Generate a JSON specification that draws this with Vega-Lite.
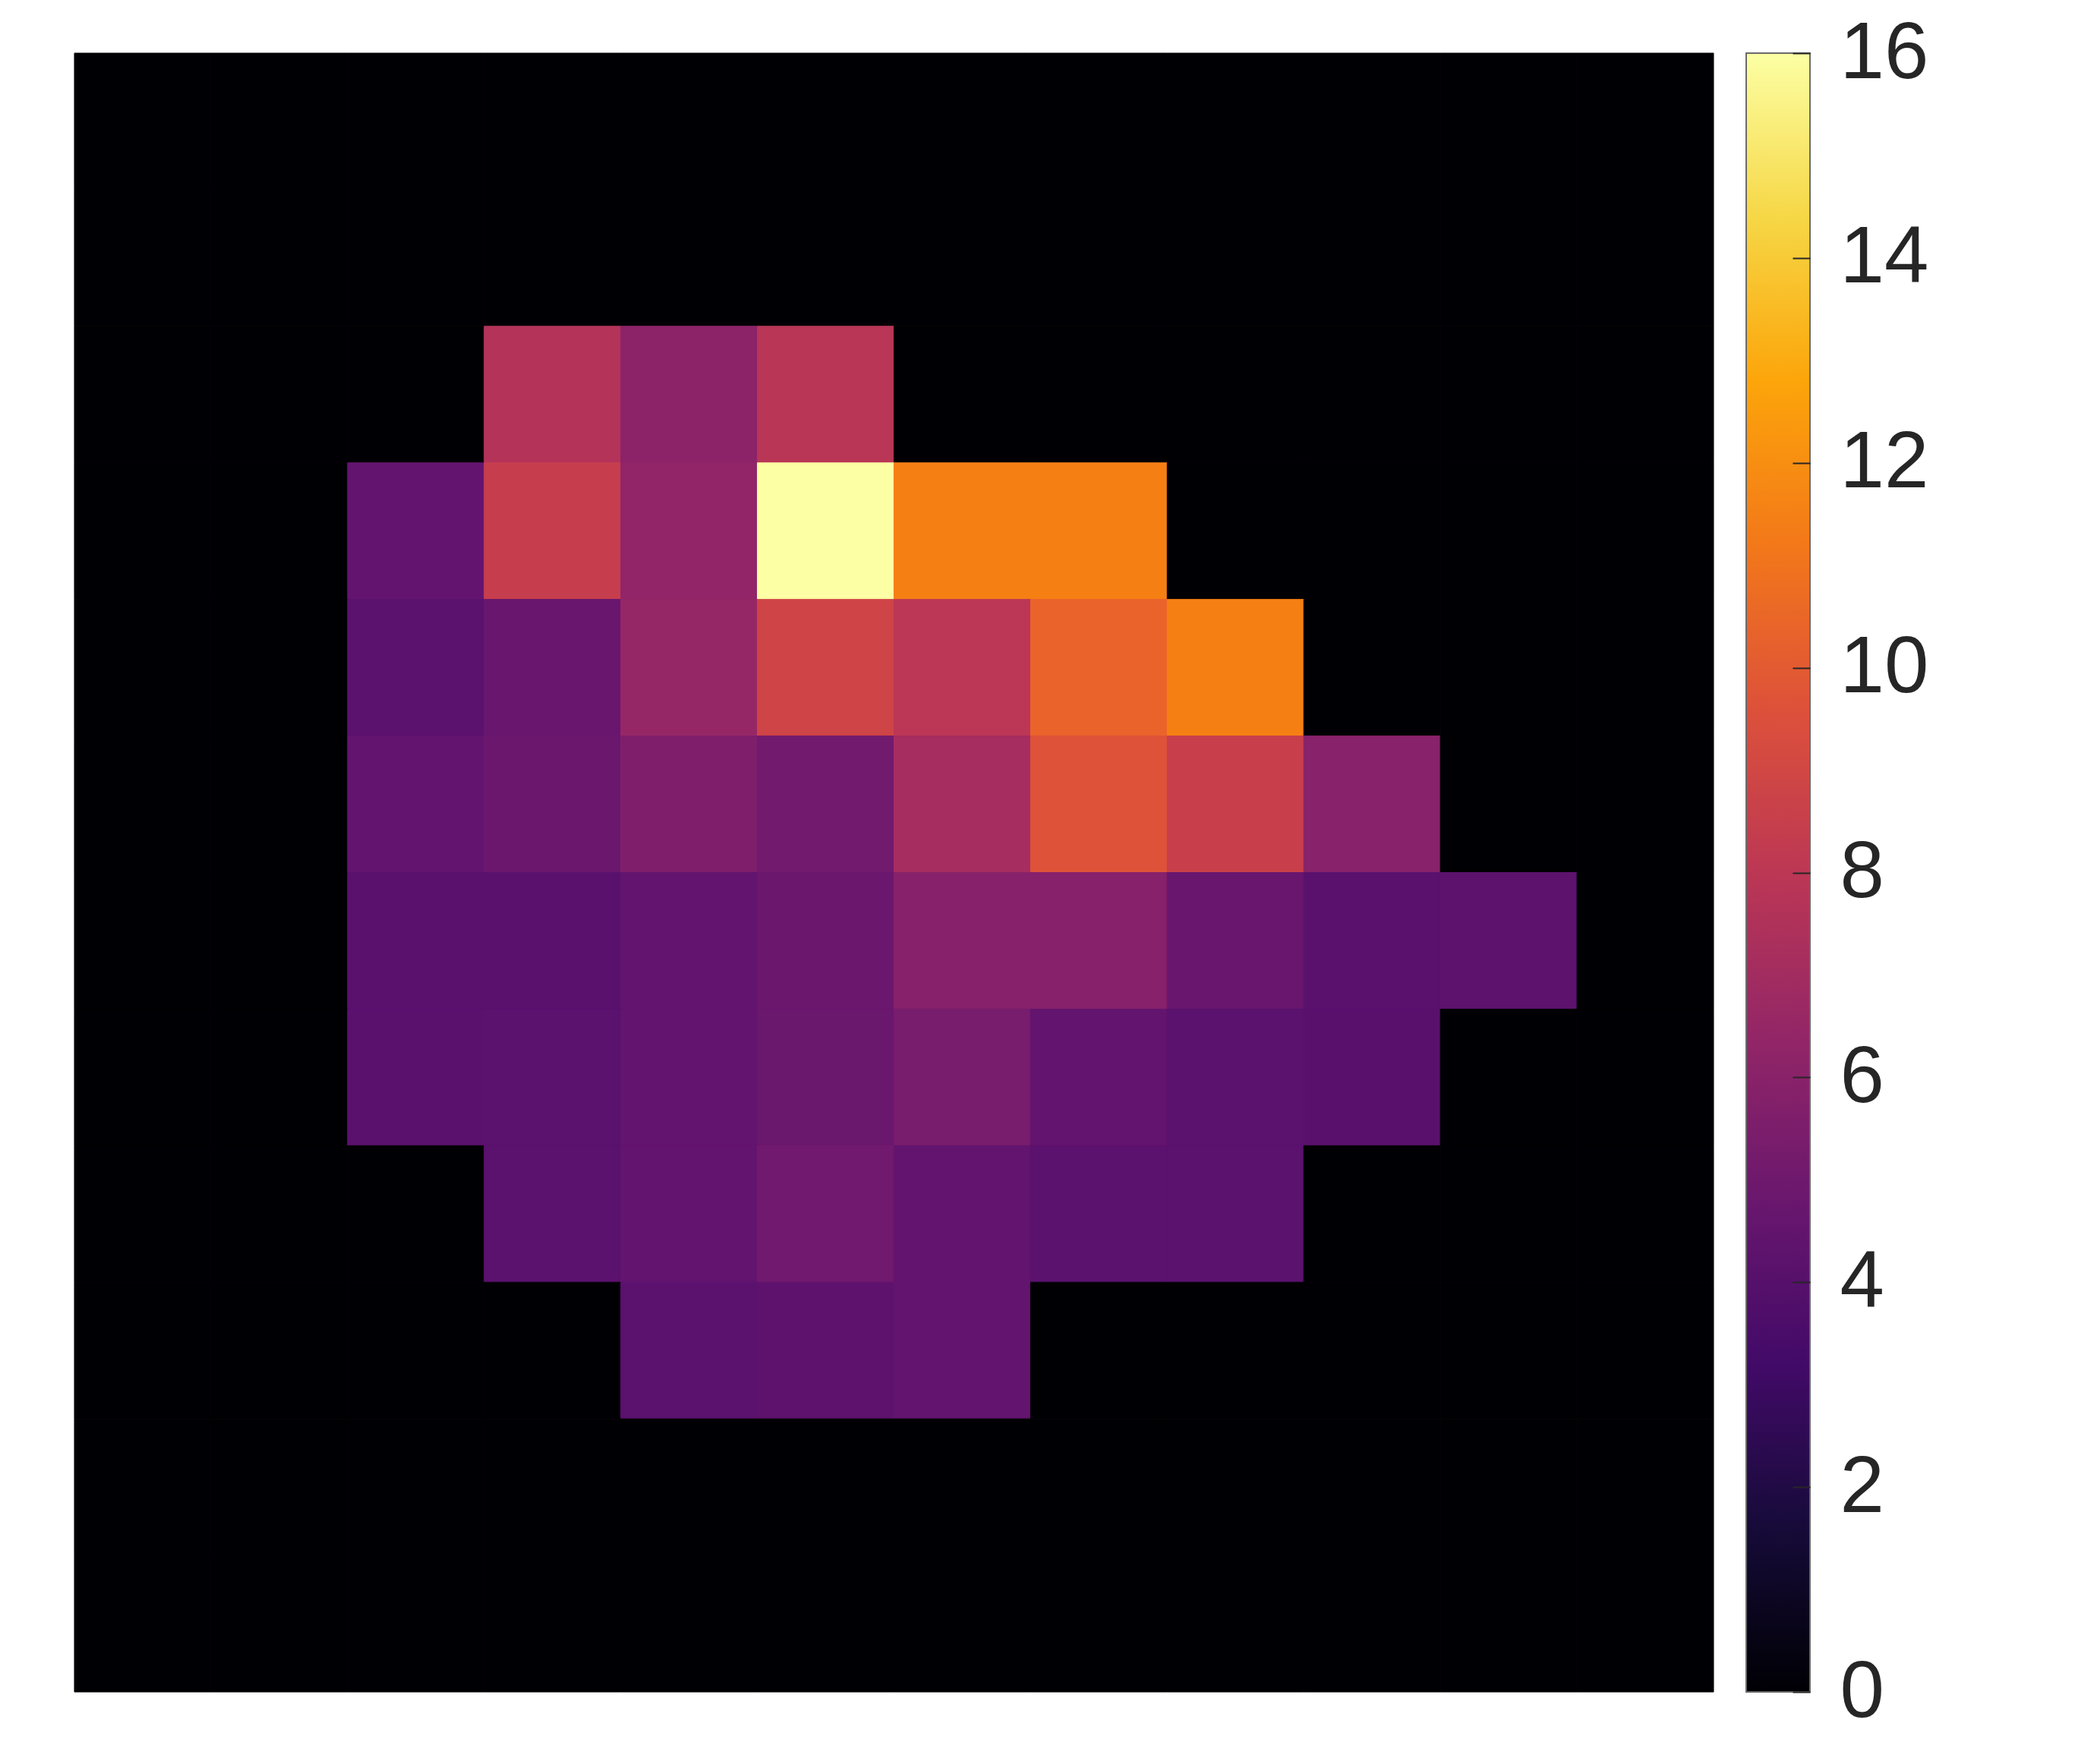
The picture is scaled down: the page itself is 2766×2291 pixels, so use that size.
{
  "$schema": "https://vega.github.io/schema/vega-lite/v6.json",
  "padding": {"left": 97, "top": 18, "right": 0, "bottom": 0},
  "background": "white",
  "spacing": 43,
  "bounds": "flush",
  "datasets": {
    "cells": [
    {"r":0,"c":0,"v":0},{"r":0,"c":1,"v":0},{"r":0,"c":2,"v":0},{"r":0,"c":3,"v":0},{"r":0,"c":4,"v":0},{"r":0,"c":5,"v":0},{"r":0,"c":6,"v":0},{"r":0,"c":7,"v":0},{"r":0,"c":8,"v":0},{"r":0,"c":9,"v":0},{"r":0,"c":10,"v":0},{"r":0,"c":11,"v":0},
    {"r":1,"c":0,"v":0},{"r":1,"c":1,"v":0},{"r":1,"c":2,"v":0},{"r":1,"c":3,"v":0},{"r":1,"c":4,"v":0},{"r":1,"c":5,"v":0},{"r":1,"c":6,"v":0},{"r":1,"c":7,"v":0},{"r":1,"c":8,"v":0},{"r":1,"c":9,"v":0},{"r":1,"c":10,"v":0},{"r":1,"c":11,"v":0},
    {"r":2,"c":0,"v":0},{"r":2,"c":1,"v":0},{"r":2,"c":2,"v":0},{"r":2,"c":3,"v":7.7},{"r":2,"c":4,"v":6.1},{"r":2,"c":5,"v":7.9},{"r":2,"c":6,"v":0},{"r":2,"c":7,"v":0},{"r":2,"c":8,"v":0},{"r":2,"c":9,"v":0},{"r":2,"c":10,"v":0},{"r":2,"c":11,"v":0},
    {"r":3,"c":0,"v":0},{"r":3,"c":1,"v":0},{"r":3,"c":2,"v":4.5},{"r":3,"c":3,"v":8.5},{"r":3,"c":4,"v":6.3},{"r":3,"c":5,"v":16},{"r":3,"c":6,"v":11.5},{"r":3,"c":7,"v":11.5},{"r":3,"c":8,"v":0},{"r":3,"c":9,"v":0},{"r":3,"c":10,"v":0},{"r":3,"c":11,"v":0},
    {"r":4,"c":0,"v":0},{"r":4,"c":1,"v":0},{"r":4,"c":2,"v":4.2},{"r":4,"c":3,"v":4.7},{"r":4,"c":4,"v":6.5},{"r":4,"c":5,"v":8.9},{"r":4,"c":6,"v":8.0},{"r":4,"c":7,"v":10.4},{"r":4,"c":8,"v":11.5},{"r":4,"c":9,"v":0},{"r":4,"c":10,"v":0},{"r":4,"c":11,"v":0},
    {"r":5,"c":0,"v":0},{"r":5,"c":1,"v":0},{"r":5,"c":2,"v":4.5},{"r":5,"c":3,"v":4.8},{"r":5,"c":4,"v":5.6},{"r":5,"c":5,"v":5.1},{"r":5,"c":6,"v":7.15},{"r":5,"c":7,"v":9.65},{"r":5,"c":8,"v":8.6},{"r":5,"c":9,"v":5.95},{"r":5,"c":10,"v":0},{"r":5,"c":11,"v":0},
    {"r":6,"c":0,"v":0},{"r":6,"c":1,"v":0},{"r":6,"c":2,"v":4.15},{"r":6,"c":3,"v":4.15},{"r":6,"c":4,"v":4.5},{"r":6,"c":5,"v":4.8},{"r":6,"c":6,"v":5.9},{"r":6,"c":7,"v":5.9},{"r":6,"c":8,"v":4.7},{"r":6,"c":9,"v":4.15},{"r":6,"c":10,"v":4.25},{"r":6,"c":11,"v":0},
    {"r":7,"c":0,"v":0},{"r":7,"c":1,"v":0},{"r":7,"c":2,"v":4.15},{"r":7,"c":3,"v":4.2},{"r":7,"c":4,"v":4.5},{"r":7,"c":5,"v":4.75},{"r":7,"c":6,"v":5.35},{"r":7,"c":7,"v":4.5},{"r":7,"c":8,"v":4.2},{"r":7,"c":9,"v":4.1},{"r":7,"c":10,"v":0},{"r":7,"c":11,"v":0},
    {"r":8,"c":0,"v":0},{"r":8,"c":1,"v":0},{"r":8,"c":2,"v":0},{"r":8,"c":3,"v":4.2},{"r":8,"c":4,"v":4.5},{"r":8,"c":5,"v":5.05},{"r":8,"c":6,"v":4.5},{"r":8,"c":7,"v":4.2},{"r":8,"c":8,"v":4.2},{"r":8,"c":9,"v":0},{"r":8,"c":10,"v":0},{"r":8,"c":11,"v":0},
    {"r":9,"c":0,"v":0},{"r":9,"c":1,"v":0},{"r":9,"c":2,"v":0},{"r":9,"c":3,"v":0},{"r":9,"c":4,"v":4.2},{"r":9,"c":5,"v":4.3},{"r":9,"c":6,"v":4.5},{"r":9,"c":7,"v":0},{"r":9,"c":8,"v":0},{"r":9,"c":9,"v":0},{"r":9,"c":10,"v":0},{"r":9,"c":11,"v":0},
    {"r":10,"c":0,"v":0},{"r":10,"c":1,"v":0},{"r":10,"c":2,"v":0},{"r":10,"c":3,"v":0},{"r":10,"c":4,"v":0},{"r":10,"c":5,"v":0},{"r":10,"c":6,"v":0},{"r":10,"c":7,"v":0},{"r":10,"c":8,"v":0},{"r":10,"c":9,"v":0},{"r":10,"c":10,"v":0},{"r":10,"c":11,"v":0},
    {"r":11,"c":0,"v":0},{"r":11,"c":1,"v":0},{"r":11,"c":2,"v":0},{"r":11,"c":3,"v":0},{"r":11,"c":4,"v":0},{"r":11,"c":5,"v":0},{"r":11,"c":6,"v":0},{"r":11,"c":7,"v":0},{"r":11,"c":8,"v":0},{"r":11,"c":9,"v":0},{"r":11,"c":10,"v":0},{"r":11,"c":11,"v":0}
    ],
    "colorbar": [{"lo": 0, "hi": 16}]
  },
  "hconcat": [
    {
      "width": 2159,
      "height": 2159,
      "data": {"name": "cells"},
      "mark": {"type": "rect", "strokeWidth": 1},
      "encoding": {
        "x": {"field": "c", "type": "ordinal", "axis": null, "scale": {"paddingInner": 0, "paddingOuter": 0}},
        "y": {"field": "r", "type": "ordinal", "axis": null, "scale": {"paddingInner": 0, "paddingOuter": 0}},
        "color": {"field": "v", "type": "quantitative", "scale": {"scheme": "inferno", "domain": [0, 16]}, "legend": null},
        "stroke": {"field": "v", "type": "quantitative", "scale": {"scheme": "inferno", "domain": [0, 16]}, "legend": null}
      }
    },
    {
      "width": 84,
      "height": 2159,
      "data": {"name": "colorbar"},
      "mark": {
        "type": "rect",
        "stroke": "#6b6b6b",
        "strokeWidth": 2,
        "color": {
          "gradient": "linear", "x1": 0, "y1": 1, "x2": 0, "y2": 0,
          "stops": [
            {"offset": 0.0, "color": "#000004"},
            {"offset": 0.1, "color": "#160b39"},
            {"offset": 0.2, "color": "#420a68"},
            {"offset": 0.3, "color": "#6a176e"},
            {"offset": 0.4, "color": "#932667"},
            {"offset": 0.5, "color": "#bc3754"},
            {"offset": 0.6, "color": "#dd513a"},
            {"offset": 0.7, "color": "#f37819"},
            {"offset": 0.8, "color": "#fca50a"},
            {"offset": 0.9, "color": "#f6d746"},
            {"offset": 1.0, "color": "#fcffa4"}
          ]
        }
      },
      "encoding": {
        "y": {"field": "lo", "type": "quantitative", "scale": {"domain": [0, 16], "nice": false, "zero": false},
              "axis": {"orient": "right", "zindex": 1, "values": [0, 2, 4, 6, 8, 10, 12, 14, 16], "format": "d", "domain": false, "grid": false, "title": null,
                       "ticks": true, "tickSize": -23, "tickWidth": 2, "tickColor": "#262626",
                       "labelFont": "Liberation Sans", "labelFontSize": 105, "labelColor": "#262626", "labelPadding": 62, "labelFlush": false, "labelOverlap": false, "labelBaseline": "middle"}},
        "y2": {"field": "hi"}
      }
    }
  ],
  "config": {"view": {"stroke": null}}
}
